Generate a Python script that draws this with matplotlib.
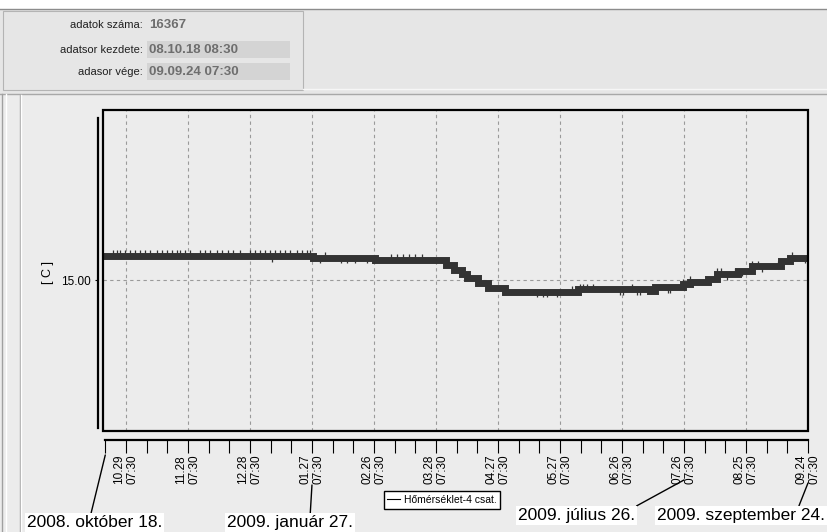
import numpy as np
import pandas as pd
import matplotlib
matplotlib.use("Agg")
import matplotlib.pyplot as plt
import matplotlib.dates as mdates
from matplotlib.lines import Line2D
from matplotlib.patches import Rectangle

plt.rcParams["font.family"] = ["Liberation Sans", "DejaVu Sans"]

# header info
n_records = "16367"
first_record = "08.10.18 08:30"
last_record = "09.09.24 07:30"
series_name = "Hőmérséklet-4 csat."
unit_label = "[ C ]"

start = pd.Timestamp("2008-10-18 08:30")
end = pd.Timestamp("2009-09-24 07:30")

# stepped temperature curve: day of level change (after start) and level in C
change_day = [0, 101.5, 131.4, 165.8, 169.7, 173.6, 176.0, 181.3, 186.1, 194.3,
              229.6, 264.5, 266.9, 280.5, 283.8, 292.5, 296.9, 307.0, 313.8,
              327.8, 332.2]
level = [15.33, 15.31, 15.28, 15.21, 15.14, 15.08, 15.03, 14.96, 14.89, 14.84,
         14.87, 14.85, 14.90, 14.94, 14.97, 15.01, 15.08, 15.13, 15.19,
         15.26, 15.31]

# short one-step toggles of the sensor (days after start)
spike_up_day = [4.8, 6.5, 8.1, 10.5, 12.9, 15.3, 17.8, 20.2, 22.6, 25.8, 28.3,
                30.7, 33.1, 35.5, 37.1, 39.5, 41.9, 46.8, 49.2, 51.6, 54.9,
                57.3, 60.5, 62.9, 66.1, 71.0, 73.4, 75.8, 78.3, 80.7, 83.1,
                85.5, 87.9, 90.3, 93.6, 96.0, 98.4, 100.0, 107.3, 139, 142,
                145, 148, 151, 154, 227, 230.6, 232, 234, 237, 255.9, 280.5,
                283.8, 296.9, 299, 305.6, 313.8, 316.7, 326.3, 331.1, 333]
spike_down_day = [81.5, 104.8, 115, 117.8, 121.8, 127.4, 130.5, 210, 212.7,
                  214.6, 219.4, 250, 251.6, 258, 259.6, 273.2, 274.2, 302,
                  308.9, 318.6, 339.4]

major_ticks = ["2008-10-29 07:30", "2008-11-28 07:30", "2008-12-28 07:30",
               "2009-01-27 07:30", "2009-02-26 07:30", "2009-03-28 07:30",
               "2009-04-27 07:30", "2009-05-27 07:30", "2009-06-26 07:30",
               "2009-07-26 07:30", "2009-08-25 07:30", "2009-09-24 07:30"]

notes = ["2008. október 18.", "2009. január 27.", "2009. július 26.",
         "2009. szeptember 24."]
note_dates = ["2008-10-19 07:30", "2009-01-27 07:30", "2009-07-26 07:30",
              "2009-09-24 07:30"]

W, H = 828, 532
fig = plt.figure(figsize=(W / 100, H / 100), dpi=100)
fig.patch.set_facecolor("#ececec")


def fx(x):
    return x / W


def fy(y):
    return 1 - y / H


def hline(y, x0, x1, color, lw=1.0):
    fig.add_artist(Line2D([fx(x0), fx(x1)], [fy(y), fy(y)], color=color,
                          lw=lw, transform=fig.transFigure))


def vline(x, y0, y1, color, lw=1.0):
    fig.add_artist(Line2D([fx(x), fx(x)], [fy(y0), fy(y1)], color=color,
                          lw=lw, transform=fig.transFigure))


def box(x0, y0, x1, y1, fc, ec="none", lw=0.8):
    fig.add_artist(Rectangle((fx(x0), fy(y1)), fx(x1) - fx(x0), fy(y0) - fy(y1),
                             fc=fc, ec=ec, lw=lw, transform=fig.transFigure))


# window chrome
box(0, 0, W, 9, "white")
box(0, 9, W, 94, "#e6e6e6")
hline(9, 0, W, "#8c8c8c")
box(3, 10.5, 303, 90, "none", ec="#b4b4b4")
hline(88.5, 303, W, "#f6f6f6")
hline(94.5, 0, W, "#a8a8a8")
vline(2.5, 94, H, "#a0a0a0")
vline(6, 94, H, "#ffffff")
vline(20.5, 95, H, "#a8a8a8")
vline(21.5, 95, H, "#ffffff")

box(147, 41, 290, 58, "#d4d4d4")
box(147, 63, 290, 80, "#d4d4d4")
for y, lab, val in [(25, "adatok száma:", n_records),
                    (50, "adatsor kezdete:", first_record),
                    (72, "adasor vége:", last_record)]:
    fig.text(fx(143), fy(y), lab, ha="right", va="center", fontsize=8,
             color="#202020")
    fig.text(fx(149), fy(y), val, ha="left", va="center", fontsize=9.5,
             fontweight="bold", color="#6e6e6e")

# main plot
ax = fig.add_axes([fx(103.3), fy(431), fx(808) - fx(103.3), fy(110) - fy(431)])
ax.set_facecolor("#ececec")

xs = start + pd.to_timedelta(change_day + [(end - start).total_seconds() / 86400], unit="D")
ys = level + [level[-1]]
ax.step(xs, ys, where="post", color="#333333", lw=5.0, solid_capstyle="butt",
        solid_joinstyle="miter", zorder=3)

idx_up = np.searchsorted(change_day, spike_up_day, side="right") - 1
idx_dn = np.searchsorted(change_day, spike_down_day, side="right") - 1
lv = np.array(level)
ax.vlines(start + pd.to_timedelta(spike_up_day, unit="D"), lv[idx_up],
          lv[idx_up] + 0.08, color="#333333", lw=0.9, zorder=3)
ax.vlines(start + pd.to_timedelta(spike_down_day, unit="D"), lv[idx_dn] - 0.08,
          lv[idx_dn], color="#333333", lw=0.9, zorder=3)

ax.set_xlim(start, end)
ax.set_ylim(12.903, 17.361)

ax.tick_params(axis="x", which="both", direction="out", length=9.4, width=0.8,
               pad=1.0, colors="black", labelrotation=90, labelsize=8.5)
ax.tick_params(axis="y", direction="out", length=2.5, width=0.8, pad=2.5,
               labelsize=8.5)
ticks = pd.to_datetime(major_ticks)
ax.set_xticks(ticks)
ax.set_xticklabels([t.strftime("%m.%d\n%H:%M") for t in ticks], rotation=90,
                   fontsize=8.5, linespacing=1.3, va="top", ha="center")
minor = pd.date_range("2008-10-19 07:30", end, freq="10D")
ax.set_xticks(minor, minor=True)
ax.set_yticks([15.0])
ax.set_yticklabels(["15.00"])

ax.grid(True, which="major", color="#9a9a9a", lw=0.8, linestyle=(0, (3, 3)))
ax.set_axisbelow(True)

for s in ["top", "right"]:
    ax.spines[s].set_visible(False)
ax.spines["left"].set_position(("outward", 4))
ax.spines["left"].set_bounds(12.944, 17.25)
ax.spines["left"].set_linewidth(1.6)
ax.spines["bottom"].set_position(("outward", 6.5))
ax.spines["bottom"].set_bounds(mdates.date2num(start + pd.Timedelta(hours=20)),
                               mdates.date2num(end))
ax.spines["bottom"].set_linewidth(1.6)
ax.add_patch(Rectangle((0, 0), 1, 1, transform=ax.transAxes, fill=False,
                       ec="black", lw=1.6, zorder=5, clip_on=False))

fig.text(fx(48), fy(273), unit_label, rotation=90, ha="center", va="center",
         fontsize=9)

# date notes below the axis
note_text_xy = [(27, 527), (227, 527), (518, 520), (657, 520)]
note_tip_y = [455, 485, 480, 483]
note_relx = [0.47, 0.66, 0.98, 0.84]
for txt, d, (tx, ty), tipy, rx in zip(notes, note_dates, note_text_xy,
                                      note_tip_y, note_relx):
    ax.annotate(txt, xy=(mdates.date2num(pd.Timestamp(d)), H - tipy),
                xycoords=("data", "figure pixels"),
                xytext=(tx, H - ty), textcoords="figure pixels",
                ha="left", va="baseline", fontsize=12.5, color="black",
                bbox=dict(boxstyle="square,pad=0.12", fc="white", ec="none"),
                arrowprops=dict(arrowstyle="-", color="black", lw=1.0,
                                relpos=(rx, 1), shrinkA=0, shrinkB=0),
                annotation_clip=False)

leg = fig.legend(handles=[Line2D([], [], color="black", lw=0.8)],
                 labels=[series_name], loc="center",
                 bbox_to_anchor=(fx(442), fy(500)), fontsize=7.5,
                 frameon=True, fancybox=False, edgecolor="black", framealpha=1,
                 handlelength=1.2, handletextpad=0.4, borderpad=0.35)
leg.get_frame().set_linewidth(1.0)

fig.savefig("out.png", dpi=100, facecolor=fig.get_facecolor())
